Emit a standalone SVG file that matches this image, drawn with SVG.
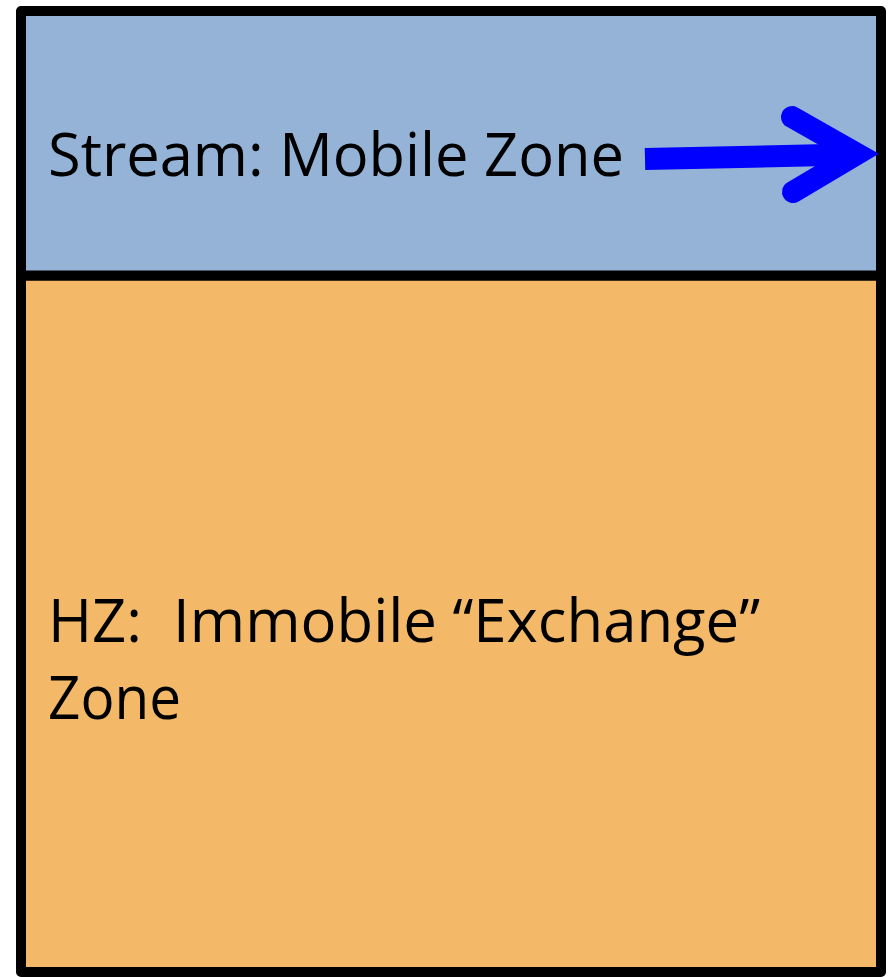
<svg xmlns="http://www.w3.org/2000/svg" width="892" height="977" viewBox="0 0 892 977">
<style>
.zone{stroke:#000;stroke-width:10;stroke-linejoin:round}
.lbl{font-family:"Open Sans","Noto Sans","Liberation Sans",sans-serif;font-size:60px;fill:#000}
</style>
<rect width="892" height="977" fill="#fff"/>
<g id="hz">
<rect class="zone" x="21" y="275.5" width="860" height="696.5" fill="#F3B968"/>
<text class="lbl" x="48" y="642" textLength="712" lengthAdjust="spacingAndGlyphs">HZ:&#160; Immobile “Exchange”</text>
<text class="lbl" x="48" y="719" textLength="133" lengthAdjust="spacingAndGlyphs">Zone</text>
</g>
<g id="stream">
<rect class="zone" x="21" y="11" width="860" height="264.5" fill="#95B3D7"/>
<text class="lbl" x="48" y="176" textLength="576" lengthAdjust="spacingAndGlyphs">Stream: Mobile Zone</text>
</g>
<g id="connectors">
<line x1="645" y1="159" x2="850" y2="154.5" stroke="#0000FF" stroke-width="22"/>
<polyline points="792,117 857,154 793,192" fill="none" stroke="#0000FF" stroke-width="22" stroke-linecap="round" stroke-linejoin="miter"/>
</g>
</svg>
